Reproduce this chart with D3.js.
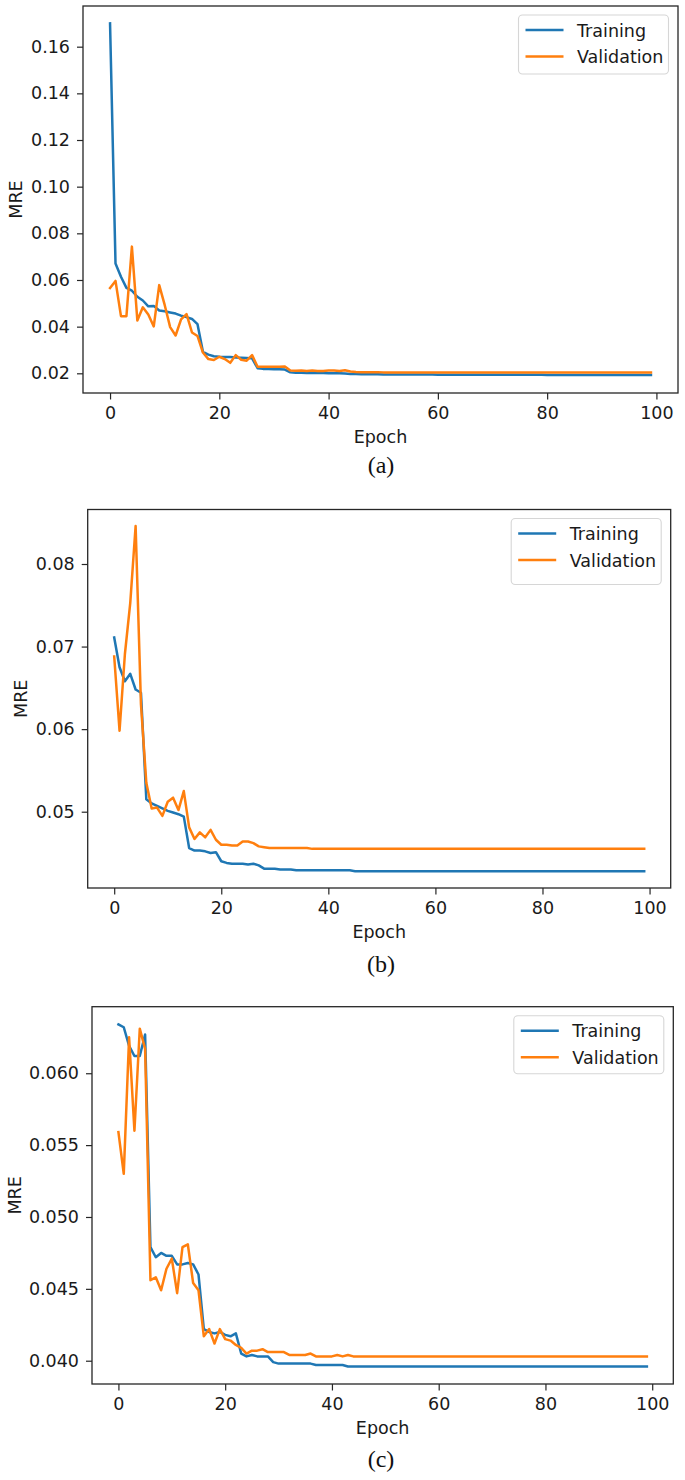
<!DOCTYPE html>
<html>
<head>
<meta charset="utf-8">
<script src="https://cdn.jsdelivr.net/npm/d3@7"></script>
<style>
  html, body { margin: 0; padding: 0; background: #ffffff; }
  svg { display: block; }
</style>
</head>
<body>
<div id="chart"></div>
<script>
// ---------------- DATA ----------------
const seriesNames = ["Training", "Validation"];
const epochTicks = [0, 20, 40, 60, 80, 100];
const panelLabels = ["(a)", "(b)", "(c)"];
const yTicksA = [0.02, 0.04, 0.06, 0.08, 0.10, 0.12, 0.14, 0.16];
const yTicksB = [0.05, 0.06, 0.07, 0.08];
const yTicksC = [0.040, 0.045, 0.050, 0.055, 0.060];

const trainA = [
  0.1700,0.0671,0.0614,0.0566,0.0554,0.0528,0.0512,0.0487,0.0489,0.0469,
  0.0466,0.0461,0.0456,0.0447,0.0441,0.0433,0.0411,0.0292,0.0280,0.0273,
  0.0271,0.0270,0.0270,0.0268,0.0267,0.0266,0.0264,0.0222,0.0219,0.0218,
  0.0217,0.0217,0.0216,0.0204,0.0202,0.0202,0.0201,0.0201,0.0201,0.0201,
  0.0200,0.0200,0.0200,0.0199,0.0197,0.0197,0.0196,0.0196,0.0196,0.0196,
  0.0195,0.0195,0.0195,0.0195,0.0195,0.0195,0.0195,0.0195,0.0195,0.0195,
  0.0194,0.0194,0.0194,0.0194,0.0194,0.0194,0.0194,0.0194,0.0194,0.0194,
  0.0194,0.0194,0.0194,0.0194,0.0194,0.0194,0.0194,0.0194,0.0194,0.0194,
  0.0193,0.0193,0.0193,0.0193,0.0193,0.0193,0.0193,0.0193,0.0193,0.0193,
  0.0193,0.0193,0.0193,0.0193,0.0193,0.0193,0.0193,0.0193,0.0193,0.0193
];
const valA = [
  0.0566,0.0596,0.0445,0.0445,0.0743,0.0426,0.0483,0.0452,0.0401,0.0578,
  0.0493,0.0398,0.0362,0.0431,0.0454,0.0375,0.0360,0.0289,0.0261,0.0257,
  0.0271,0.0261,0.0245,0.0278,0.0258,0.0254,0.0278,0.0228,0.0228,0.0228,
  0.0228,0.0228,0.0229,0.0212,0.0211,0.0212,0.0210,0.0212,0.0210,0.0210,
  0.0212,0.0212,0.0210,0.0213,0.0208,0.0206,0.0205,0.0205,0.0205,0.0205,
  0.0204,0.0204,0.0204,0.0204,0.0204,0.0204,0.0204,0.0204,0.0204,0.0204,
  0.0204,0.0204,0.0204,0.0204,0.0204,0.0204,0.0204,0.0204,0.0204,0.0204,
  0.0203,0.0203,0.0203,0.0203,0.0203,0.0203,0.0203,0.0203,0.0203,0.0203,
  0.0203,0.0203,0.0203,0.0203,0.0203,0.0203,0.0203,0.0203,0.0203,0.0203,
  0.0203,0.0203,0.0203,0.0203,0.0203,0.0203,0.0203,0.0203,0.0203,0.0203
];
const trainB = [
  0.0711,0.0675,0.0658,0.0667,0.0648,0.0644,0.0515,0.0510,0.0507,0.0504,
  0.0501,0.0499,0.0497,0.0494,0.0456,0.0453,0.0453,0.0452,0.0450,0.0451,
  0.0440,0.0438,0.0437,0.0437,0.0437,0.0436,0.0437,0.0435,0.0431,0.0431,
  0.0431,0.0430,0.0430,0.0430,0.0429,0.0429,0.0429,0.0429,0.0429,0.0429,
  0.0429,0.0429,0.0429,0.0429,0.0429,0.0428,0.0428,0.0428,0.0428,0.0428,
  0.0428,0.0428,0.0428,0.0428,0.0428,0.0428,0.0428,0.0428,0.0428,0.0428,
  0.0428,0.0428,0.0428,0.0428,0.0428,0.0428,0.0428,0.0428,0.0428,0.0428,
  0.0428,0.0428,0.0428,0.0428,0.0428,0.0428,0.0428,0.0428,0.0428,0.0428,
  0.0428,0.0428,0.0428,0.0428,0.0428,0.0428,0.0428,0.0428,0.0428,0.0428,
  0.0428,0.0428,0.0428,0.0428,0.0428,0.0428,0.0428,0.0428,0.0428,0.0428
];
const valB = [
  0.0688,0.0598,0.0691,0.0753,0.0846,0.0630,0.0535,0.0504,0.0505,0.0495,
  0.0512,0.0517,0.0502,0.0525,0.0481,0.0467,0.0475,0.0469,0.0478,0.0466,
  0.0460,0.0460,0.0459,0.0459,0.0464,0.0464,0.0462,0.0458,0.0457,0.0456,
  0.0456,0.0456,0.0456,0.0456,0.0456,0.0456,0.0456,0.0455,0.0455,0.0455,
  0.0455,0.0455,0.0455,0.0455,0.0455,0.0455,0.0455,0.0455,0.0455,0.0455,
  0.0455,0.0455,0.0455,0.0455,0.0455,0.0455,0.0455,0.0455,0.0455,0.0455,
  0.0455,0.0455,0.0455,0.0455,0.0455,0.0455,0.0455,0.0455,0.0455,0.0455,
  0.0455,0.0455,0.0455,0.0455,0.0455,0.0455,0.0455,0.0455,0.0455,0.0455,
  0.0455,0.0455,0.0455,0.0455,0.0455,0.0455,0.0455,0.0455,0.0455,0.0455,
  0.0455,0.0455,0.0455,0.0455,0.0455,0.0455,0.0455,0.0455,0.0455,0.0455
];
const trainC = [
  0.0634,0.0632,0.0619,0.0612,0.0612,0.0627,0.0479,0.0472,0.0475,0.0473,
  0.0473,0.0467,0.0467,0.0468,0.0467,0.0460,0.0422,0.0420,0.0419,0.0420,
  0.0418,0.0417,0.0419,0.0405,0.0403,0.0404,0.0403,0.0403,0.0403,0.0399,
  0.0398,0.0398,0.0398,0.0398,0.0398,0.0398,0.0398,0.0397,0.0397,0.0397,
  0.0397,0.0397,0.0397,0.0396,0.0396,0.0396,0.0396,0.0396,0.0396,0.0396,
  0.0396,0.0396,0.0396,0.0396,0.0396,0.0396,0.0396,0.0396,0.0396,0.0396,
  0.0396,0.0396,0.0396,0.0396,0.0396,0.0396,0.0396,0.0396,0.0396,0.0396,
  0.0396,0.0396,0.0396,0.0396,0.0396,0.0396,0.0396,0.0396,0.0396,0.0396,
  0.0396,0.0396,0.0396,0.0396,0.0396,0.0396,0.0396,0.0396,0.0396,0.0396,
  0.0396,0.0396,0.0396,0.0396,0.0396,0.0396,0.0396,0.0396,0.0396,0.0396
];
const valC = [
  0.0559,0.0530,0.0625,0.0560,0.0631,0.0617,0.0456,0.0458,0.0449,0.0464,
  0.0471,0.0447,0.0479,0.0481,0.0454,0.0449,0.0417,0.0422,0.0412,0.0422,
  0.0415,0.0414,0.0411,0.0409,0.0405,0.0407,0.0407,0.0408,0.0406,0.0406,
  0.0406,0.0406,0.0404,0.0404,0.0404,0.0404,0.0405,0.0403,0.0403,0.0403,
  0.0403,0.0404,0.0403,0.0404,0.0403,0.0403,0.0403,0.0403,0.0403,0.0403,
  0.0403,0.0403,0.0403,0.0403,0.0403,0.0403,0.0403,0.0403,0.0403,0.0403,
  0.0403,0.0403,0.0403,0.0403,0.0403,0.0403,0.0403,0.0403,0.0403,0.0403,
  0.0403,0.0403,0.0403,0.0403,0.0403,0.0403,0.0403,0.0403,0.0403,0.0403,
  0.0403,0.0403,0.0403,0.0403,0.0403,0.0403,0.0403,0.0403,0.0403,0.0403,
  0.0403,0.0403,0.0403,0.0403,0.0403,0.0403,0.0403,0.0403,0.0403,0.0403
];

// ---------------- LAYOUT ----------------
const W = 685, H = 1480;
const colors = ["#1f77b4", "#ff7f0e"];
const FONT = "'DejaVu Sans', 'Liberation Sans', sans-serif";
const FS = 17.5;

const panels = [
  { label: panelLabels[0], train: trainA, val: valA, yTicks: yTicksA, fmt: ".2f",
    left: 83, right: 678, top: 6, bottom: 393, yDomain: [0.01156, 0.17744],
    yLabelX: 16, legendH: 59, captionY: 473 },
  { label: panelLabels[1], train: trainB, val: valB, yTicks: yTicksB, fmt: ".2f",
    left: 87.7, right: 670.7, top: 509.5, bottom: 888, yDomain: [0.04076, 0.0866],
    yLabelX: 21, legendH: 66, captionY: 972 },
  { label: panelLabels[2], train: trainC, val: valC, yTicks: yTicksC, fmt: ".3f",
    left: 92, right: 673.3, top: 1006.7, bottom: 1384, yDomain: [0.03838, 0.06463],
    yLabelX: 15, legendH: 58, captionY: 1467 }
];

const svg = d3.select("#chart").append("svg")
  .attr("width", W).attr("height", H)
  .attr("viewBox", `0 0 ${W} ${H}`);

svg.append("rect").attr("width", W).attr("height", H).attr("fill", "#fff");

panels.forEach(p => {
  const g = svg.append("g");
  const x = d3.scaleLinear().domain([-4.95, 103.95]).range([p.left, p.right]);
  const y = d3.scaleLinear().domain(p.yDomain).range([p.bottom, p.top]);

  // x axis
  const xa = g.append("g")
    .attr("transform", `translate(0,${p.bottom})`)
    .call(d3.axisBottom(x).tickValues(epochTicks).tickFormat(d3.format("d"))
      .tickSize(6.5).tickPadding(7));
  // y axis
  const ya = g.append("g")
    .attr("transform", `translate(${p.left},0)`)
    .call(d3.axisLeft(y).tickValues(p.yTicks).tickFormat(d3.format(p.fmt))
      .tickSize(6).tickPadding(7));
  [xa, ya].forEach(a => {
    a.select(".domain").remove();
    a.selectAll(".tick line").attr("stroke", "#262626").attr("stroke-width", 1.2);
    a.selectAll(".tick text").attr("fill", "#1a1a1a")
      .style("font-family", FONT).style("font-size", FS + "px");
  });

  // lines
  const line = d3.line().x((d, i) => x(i)).y(d => y(d));
  [p.train, p.val].forEach((s, k) => {
    g.append("path").datum(s)
      .attr("d", line)
      .attr("fill", "none")
      .attr("stroke", colors[k])
      .attr("stroke-width", 2.5)
      .attr("stroke-linejoin", "round")
      .attr("stroke-linecap", "square");
  });

  // frame
  g.append("rect")
    .attr("x", p.left).attr("y", p.top)
    .attr("width", p.right - p.left).attr("height", p.bottom - p.top)
    .attr("fill", "none").attr("stroke", "#262626").attr("stroke-width", 1.3);

  // axis labels
  g.append("text")
    .attr("x", (p.left + p.right) / 2).attr("y", p.bottom + 50)
    .attr("text-anchor", "middle").attr("fill", "#1a1a1a")
    .style("font-family", FONT).style("font-size", FS + "px")
    .text("Epoch");
  g.append("text")
    .attr("transform", `translate(${p.yLabelX},${(p.top + p.bottom) / 2}) rotate(-90)`)
    .attr("text-anchor", "middle").attr("dy", "0.35em").attr("fill", "#1a1a1a")
    .style("font-family", FONT).style("font-size", FS + "px")
    .text("MRE");

  // legend
  const lw = 150, lx = p.right - 9.5 - lw, ly = p.top + 9;
  const lg = g.append("g");
  lg.append("rect")
    .attr("x", lx).attr("y", ly).attr("width", lw).attr("height", p.legendH)
    .attr("rx", 4).attr("ry", 4)
    .attr("fill", "#fff").attr("fill-opacity", 0.8)
    .attr("stroke", "#d6d6d6").attr("stroke-width", 1.1);
  seriesNames.forEach((name, k) => {
    const ry = ly + 15 + k * 26.6;
    lg.append("line")
      .attr("x1", lx + 7).attr("x2", lx + 45)
      .attr("y1", ry).attr("y2", ry)
      .attr("stroke", colors[k]).attr("stroke-width", 2.5);
    lg.append("text")
      .attr("x", lx + 58.5).attr("y", ry + 6.5)
      .attr("fill", "#1a1a1a")
      .style("font-family", FONT).style("font-size", FS + "px")
      .text(name);
  });

  // caption
  g.append("text")
    .attr("x", 381).attr("y", p.captionY)
    .attr("text-anchor", "middle").attr("fill", "#111")
    .style("font-family", "'Liberation Serif', 'Times New Roman', serif")
    .style("font-size", "24px")
    .text(p.label);
});
</script>
</body>
</html>
